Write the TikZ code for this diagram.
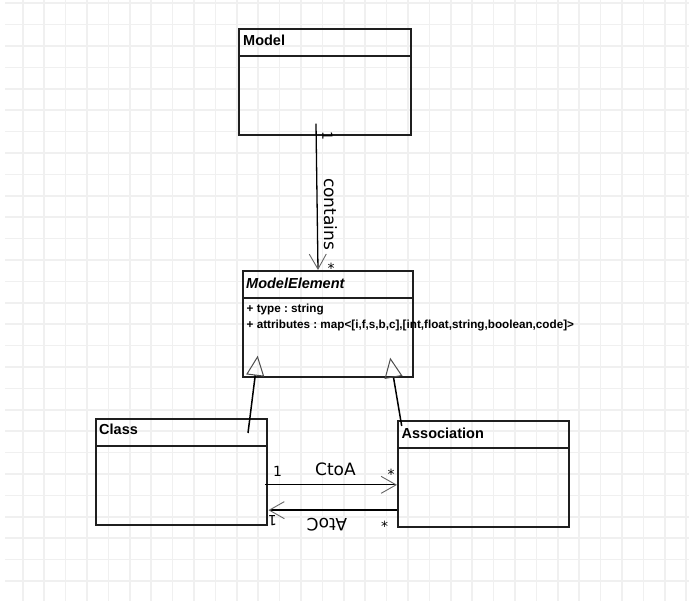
\documentclass[tikz,border=0pt]{standalone}
\usepackage{fontspec}
\setmainfont{Liberation Sans}
\newfontfamily\lblfont{DejaVu Sans}
\usetikzlibrary{arrows.meta,calc}
\frenchspacing
\begin{document}
\begin{tikzpicture}[x=1pt,y=-1pt,
  gridline/.style={draw=black!6, line width=1.6pt},
  umlbox/.style={draw=black!88, line width=1.7pt, inner sep=0pt, anchor=north west},
  sepline/.style={draw=black!88, line width=1.6pt},
  ttl/.style={font=\fontsize{14.5}{17}\selectfont\bfseries, inner sep=0pt, anchor=base west},
  attr/.style={font=\fontsize{11.7}{13}\selectfont\bfseries, inner sep=0pt, anchor=base west},
  lbl/.style={font=\lblfont\fontsize{17}{20}\selectfont, inner sep=0pt},
  mult/.style={font=\lblfont\fontsize{14}{16}\selectfont, inner sep=0pt},
  assoc/.style={line width=1.3pt, draw=black},
  vhead/.tip={Straight Barb[length=15pt, width=17pt, line width=0.9pt, color=black!60]},
  gen/.style={line width=1.5pt, draw=black, -{Triangle[open, length=20pt, width=18pt, line width=1pt, color=black!70]}},
]
\fill[white] (0,0) rectangle (689,601);
\useasboundingbox (0,0) rectangle (689,601);
% grid
\foreach \i in {0,...,31} \draw[gridline] (22.7+21.4*\i,0) -- (22.7+21.4*\i,601);
\foreach \j in {0,...,27} \draw[gridline] (5,3.3+21.4*\j) -- (689,3.3+21.4*\j);

% boxes
\node[umlbox, minimum width=172pt, minimum height=106pt] (model) at (238,28) {};
\draw[sepline] ($(model.north west)+(0,28)$) -- ($(model.north east)+(0,28)$);
\node[umlbox, minimum width=170pt, minimum height=106pt] (me) at (242,270) {};
\draw[sepline] ($(me.north west)+(0,28)$) -- ($(me.north east)+(0,28)$);
\node[umlbox, minimum width=171pt, minimum height=106pt] (class) at (95,418) {};
\draw[sepline] ($(class.north west)+(0,28)$) -- ($(class.north east)+(0,28)$);
\node[umlbox, minimum width=171pt, minimum height=106pt] (assoc) at (397,420) {};
\draw[sepline] ($(assoc.north west)+(0,28)$) -- ($(assoc.north east)+(0,28)$);

% titles
\node[ttl] (modelT) at (243,46) {Model};
\node[ttl, font=\fontsize{14.5}{17}\selectfont\bfseries\itshape] (meT) at (246,288.3) {ModelElement};
\node[ttl] (classT) at (99,435) {Class};
\node[ttl] (assocT) at (401.5,438.3) {Association};
\node[attr] (a1) at (246.5,312.7) {+ type : string};
\node[attr] (a2) at (246.5,328.3) {+ attributes : map<[i,f,s,b,c],[int,float,string,boolean,code]>};

% contains
\coordinate (cTop) at ($(model.south west)+(78,-12)$);
\coordinate (cBot) at ($(me.north west)+(76,0)$);
\draw[assoc, -{vhead}] (cTop) -- (cBot);
\node[mult, rotate=-90] (m1) at (327.5,136) {1};
\node[lbl, rotate=-90] (contL) at (330.5,214) {contains};
\node[mult, anchor=base] (s1) at (331,273.3) {*};

% generalizations
\coordinate (g1s) at ($(class.north west)+(153,15)$);
\coordinate (g1e) at ($(me.south west)+(15.7,-22)$);
\draw[gen] (g1s) -- (g1e);
\coordinate (g2s) at ($(assoc.north west)+(4.7,6)$);
\coordinate (g2e) at ($(me.south east)+(-23.5,-20)$);
\draw[gen] (g2s) -- (g2e);

% CtoA
\coordinate (ca1) at ($(class.east)+(-2.7,13)$);
\coordinate (ca2) at ($(assoc.west)+(0,11)$);
\draw[assoc, -{vhead}] (ca1) -- (ca2);
\node[mult, anchor=base] (m2) at (277.5,476.7) {1};
\node[lbl, anchor=base] (ctoa) at (335.5,476) {CtoA};
\node[mult, anchor=base] (s2) at (391,479.5) {*};

% AtoC
\coordinate (ac1) at ($(assoc.west)+(0,36.3)$);
\coordinate (ac2) at ($(class.east)+(0.7,38.3)$);
\draw[assoc, -{vhead}] (ac1) -- (ac2);
\node[mult, rotate=180] (m3) at (272.5,521) {1};
\node[lbl, rotate=180] (atoc) at (327,524.5) {AtoC};
\node[mult, anchor=base] (s3) at (384.5,532) {*};
\end{tikzpicture}
\end{document}
